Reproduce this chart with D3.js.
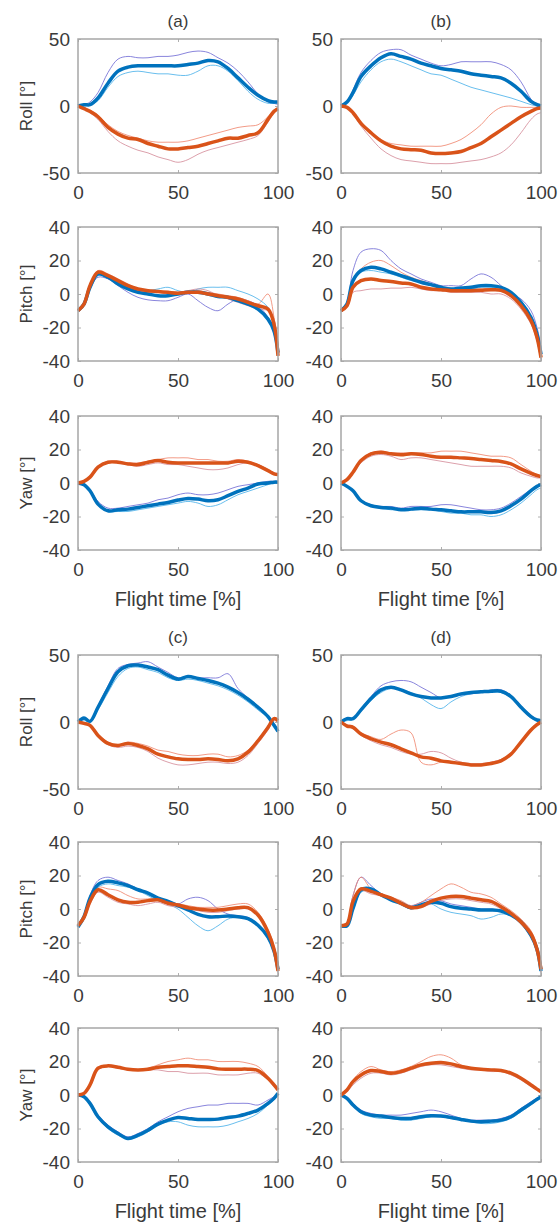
<!DOCTYPE html>
<html>
<head>
<meta charset="utf-8">
<script src="https://cdn.jsdelivr.net/npm/d3@7"></script>
<style>
  body { margin: 0; background: #fff; }
  svg text { font-family: "Liberation Sans", Arial, sans-serif; fill: #3a3a3a; }
</style>
</head>
<body>
<div id="chart"></div>
<script>
// sample positions along flight time [%]
var flightTime = [0,3,6,10,15,20,25,30,35,40,45,50,55,60,65,70,75,80,85,90,95,98,100];
var titles = ["(a)", "(b)", "(c)", "(d)"];
var angleNames = ["Roll [°]", "Pitch [°]", "Yaw [°]"];
var rollTicks = [-50, 0, 50];
var pyTicks = [-40, -20, 0, 20, 40];
var xTicks = [0, 50, 100];

// (a)
var aRollB  = [0,1,1,6,17,26,29,30,30,30,30,30,31,32,34,33,28,21,14,8,4,3,3];
var aRollB1 = [0,1,3,10,25,35,37,36,36,37,37,38,40,41,40,36,32,26,18,9,3,2,1];
var aRollB2 = [0,0,1,4,14,22,25,26,25,24,24,23,23,26,30,30,26,19,11,5,2,2,2];
var aRollR  = [0,-2,-4,-8,-16,-21,-24,-25,-28,-30,-32,-32,-31,-30,-28,-26,-24,-24,-22,-20,-10,-4,-2];
var aRollR1 = [0,-1,-3,-7,-14,-19,-22,-24,-26,-27,-27,-27,-26,-24,-22,-20,-18,-16,-15,-14,-8,-3,-1];
var aRollR2 = [0,-2,-5,-10,-19,-26,-30,-33,-35,-38,-40,-42,-40,-36,-33,-31,-29,-27,-25,-22,-12,-5,-2];
var aPitB   = [-10,-6,4,12,10,6,3,1,0,-1,-1,0,1,1,0,-1.5,-2,-4,-6,-9,-15,-22,-35];
var aPitB1  = [-10,-6,3,10,9,5,1,-2,-3.5,-4,-4,-2,0,-4,-8,-10,-6,-3,-4,-7,-14,-24,-36];
var aPitB2  = [-10,-5,5,11,11,8,4,2,2,3,4,2,1,3,4,4,4,2,0,-3,-8,-18,-33];
var aPitR   = [-10,-6,5,13,11,8,5,3,2,1.5,1,0.5,1,1,0,-1,-2,-3,-5,-7,-9,-18,-37];
var aPitR1  = [-10,-7,5,14,12,9,6,3,2,1,1,1,1,2,1,0,-1,-2,-4,-6,0,-14,-36];
var aPitR2  = [-10,-5,6,13,11,7,4,2,1,1,0,1,2,3,2,-1,-3,-5,-7,-9,-10,-15,-33];
var aYawB   = [0,-1,-4.6,-12.6,-16.6,-16,-15.6,-14.6,-13.6,-12.6,-11.6,-10.2,-9.2,-9.6,-10.6,-10,-7.6,-5,-3,-0.6,0,0.5,0.5];
var aYawB1  = [0,-1,-4,-11,-15,-15,-14,-13,-12,-10,-9,-7,-6,-7,-7,-6,-4,-2,-1,0,1,1,1];
var aYawB2  = [0,-1,-5,-13,-17,-17,-17,-16,-15,-14,-13,-12,-11,-12,-14,-13,-10,-7,-5,-3,-1,0,0];
var aYawR   = [0,1,3.5,9.5,12.4,12.4,11.4,11,12.4,13.4,12.4,12,12,12,12,12,12,13,12.4,10.4,7.4,5.5,5];
var aYawR1  = [0,1,4,10,13,13,12,12,13,14,15,15,15,14,14,13,13,14,13,11,8,6,5];
var aYawR2  = [0,1,3,9,12,12,11,10,11,12,11,11,10,9,8,8,9,11,12,11,8,6,6];

// (b)
var bRollB  = [0,3,10,22,30,36,39,37,35,32,30,28,27,26,24,23,22,21,17,11,3.5,1,0];
var bRollB1 = [0,3,12,25,34,40,42,42,38,35,32,30,31,33,33,33,33,31,27,18,5,0,-1];
var bRollB2 = [0,2,8,18,27,33,35,33,30,27,24,23,20,17,14,12,10,8,6,3.5,1,0,0];
var bRollR  = [0,-1,-5,-13,-20,-26,-30,-32,-32.6,-33,-35,-35.5,-35,-34,-31,-28,-23,-18,-13,-8,-4,-2,-1.5];
var bRollR1 = [0,-1,-5,-12,-19,-25,-28,-29,-30,-30,-30,-30,-28,-25,-20,-14,-6,-1,0,-1,-1,-1,-1];
var bRollR2 = [0,-1,-6,-15,-24,-32,-37,-40,-41,-42,-43,-43,-43,-42,-41,-40,-38,-35,-29,-20,-10,-6,-5];
var bPitB   = [-10,-6,8,14,16,15,13,11,9,7,5.6,4,3,3.6,4,5,5,4,1,-5,-14,-24,-36];
var bPitB1  = [-10,-5,14,25,27,26,20,15,12,9,7,5,5,5,9,12,10,5,0,-3,-10,-20,-32];
var bPitB2  = [-10,-6,7,13,14,13,12,10,8,7,5,4,3,3,3,4,4,3,0,-6,-15,-25,-36];
var bPitR   = [-10,-7,4,8,9,8,7.5,6.6,6,4,3,2.6,2,2,2,2.2,2.5,2.2,-1,-7,-16,-26,-38];
var bPitR1  = [-10,-6,8,15,19,20,17,13,10,8,6,4,3,3,3,3,3,2,0,-6,-14,-24,-36];
var bPitR2  = [-10,-8,1,2,3,3,3.5,3.5,4,3,2,2,1,1,1,1,0,0,-3,-9,-18,-28,-39];
var bYawB   = [0,-2,-4.6,-10.6,-13.6,-14.6,-15,-16,-15.6,-15,-15.6,-16,-16.6,-17.2,-17.2,-17.2,-17.6,-16.6,-13.6,-9.6,-4.6,-2,-1];
var bYawB1  = [0,-2,-4,-10,-13,-14,-14,-15,-14,-14,-14,-13,-13,-14,-15,-16,-16,-15,-12,-8,-4,-2,-1];
var bYawB2  = [0,-2,-5,-11,-14,-15,-16,-16,-16,-16,-16,-17,-18,-18,-19,-19,-20,-19,-16,-12,-7,-4,-3];
var bYawR   = [0,2,6.4,13.4,17.4,18.4,17.4,16.8,17.4,17,16,15.4,15.4,15,14.6,14,13.4,12.8,11.4,8.4,5.8,4.5,3.8];
var bYawR1  = [0,2,7,14,18,19,18,18,18,18,18,19,19,19,18,17,16,16,15,11,7,5,4];
var bYawR2  = [0,2,6,12,16,17,16,14,15,15,14,13,12,11,10,10,10,10,9,6,4,3,3];

// (c)
var cRollB  = [0,3,0.5,11,25,37.5,42,42.5,41,39,35,32,34,32.5,31,29,26,22,17,11,4,-2.5,-7];
var cRollB1 = [0,2,1,12,27,40,43,44,45,41,37,33,34,33,33,33,36,25,18,12,5,-1,-5];
var cRollB2 = [0,1,0,9,22,34,40,41,39,37,33,31,32,31,29,27,24,20,15,9,3,-3,-8];
var cRollR  = [0,-1,-2.5,-10,-16,-17.5,-16,-17.5,-20,-24,-26,-27.5,-28,-28,-27.5,-28,-29,-27.5,-22.5,-14,-4,2.5,1];
var cRollR1 = [0,-1,-2,-9,-15,-17,-15,-16,-18,-21,-22,-24,-25,-25,-24,-24,-26,-25,-21,-13,-3,3,2];
var cRollR2 = [0,-1,-3,-11,-17,-19,-18,-19,-22,-27,-30,-32,-32,-31,-30,-30,-31,-30,-25,-16,-6,1,0];
var cPitB   = [-10.7,-4.6,6.5,14.6,16.6,15.6,14,11.5,9.5,6.5,4.5,2,-0.6,-3.2,-4.6,-4.6,-4.2,-4.6,-5.7,-9.7,-16.8,-25,-36];
var cPitB1  = [-10,-4,8,17,19,17,15,12,10,7,5,3,6,7,5,0,-3,-4,-5,-9,-16,-24,-35];
var cPitB2  = [-11,-5,5,13,15,14,13,11,8,5,3,0,-5,-10,-13,-10,-6,-5,-6,-10,-18,-26,-37];
var cPitR   = [-10,-5,4.5,11.5,8.5,5.5,4,4,5,5.5,3.4,2.4,0.8,0,-0.6,-0.6,0,0.8,0.8,-3.6,-13.8,-24,-37];
var cPitR1  = [-10,-4,6,13,12,11,8,6,6,6,4,3,2,1,1,1,2,3,3,-2,-12,-22,-35];
var cPitR2  = [-10,-5,3,10,7,4,3,2,3,4,2,1,0,-1,-2,-2,-1,0,0,-4,-15,-25,-38];
var cYawB   = [0,-1,-5,-13,-19,-23,-26,-24,-21,-17.4,-15,-13.4,-14,-14.6,-14.6,-14.4,-13.4,-12.6,-11,-9,-5,-2,1];
var cYawB1  = [0,-1,-5,-12,-18,-22,-25,-23,-20,-16,-13,-10,-8,-7,-6,-6,-5,-5,-5,-6,-3,-1,1];
var cYawB2  = [0,-1,-6,-14,-20,-24,-26,-25,-22,-18,-16,-16,-18,-19,-19,-19,-18,-16,-14,-11,-6,-3,0];
var cYawR   = [0,1,6,16,17.4,16.6,15.4,15,15.4,16.6,17,17.4,17.4,17,16.6,15.6,15.4,15.4,15.4,14.6,10,6,3];
var cYawR1  = [0,1,6,16,17,16,15,15,16,18,20,21,22,21,21,20,20,20,19,17,11,6,3];
var cYawR2  = [0,1,5,15,17,16,15,15,15,15,14,14,13,13,13,12,12,12,13,13,9,5,3];

// (d)
var dRollB  = [0,2.5,2.5,9,17.5,24,26,24,21,19,18,18,19,21,22,22.5,23,23,19,11,4,1.5,1];
var dRollB1 = [0,2,3,10,19,27,30,31,30,26,22,18,19,20,21,22,24,24,20,12,5,2,1];
var dRollB2 = [0,1,2,8,16,22,25,24,22,18,13,10,15,19,21,22,22,22,18,10,3,1,0];
var dRollR  = [0,-3,-4,-9,-12.5,-15,-17,-20,-23,-26,-27,-29,-30,-31,-32,-32,-31,-29,-24,-15,-6,-2,0];
var dRollR1 = [0,-2,-3,-8,-11,-13,-9,-6,-8,-30,-32,-30,-30,-31,-32,-32,-30,-28,-23,-14,-5,-1,0];
var dRollR2 = [0,-3,-5,-10,-14,-17,-19,-22,-24,-24,-22,-23,-27,-30,-31,-31,-30,-28,-24,-16,-7,-2,0];
var dPitB   = [-10,-10,0.4,11.5,12,8.5,5.5,3.4,0.8,2.4,4,3.4,1.4,0.4,0,-0.6,-0.6,-1.2,-3.6,-7.7,-15.8,-24,-37];
var dPitB1  = [-10,-8,8,19,14,9,6,4,2,4,6,5,3,2,1,0,0,-1,-3,-7,-15,-24,-36];
var dPitB2  = [-10,-10,-1,10,11,8,5,3,0,2,3,0,-2,-3,-4,-6,-5,-3,-4,-8,-16,-25,-37];
var dPitR   = [-10,-9,4.5,12,10.5,8.5,6.5,3.4,0.8,1.4,4.5,6.5,7.5,7.5,6.5,5.5,4.5,1.4,-2.6,-7.7,-14.8,-24,-36];
var dPitR1  = [-10,-8,8,19,12,9,7,5,2,4,8,12,15,13,10,9,7,3,-1,-6,-13,-22,-34];
var dPitR2  = [-10,-9,3,11,9,8,7,4,1,1,3,5,6,6,5,4,3,0,-4,-9,-17,-26,-38];
var dYawB   = [0,-2,-6,-10,-12,-12.6,-13.4,-14,-14,-13,-12.4,-12.6,-13.4,-14.6,-15.6,-16,-15.6,-15,-13,-9,-5,-2.5,-1];
var dYawB1  = [0,-2,-5,-9,-11,-12,-12,-12,-11,-10,-9,-10,-12,-14,-15,-15,-15,-14,-12,-8,-4,-2,-1];
var dYawB2  = [0,-2,-6,-11,-13,-14,-14,-15,-15,-14,-13,-13,-14,-15,-16,-17,-17,-16,-14,-10,-6,-3,-1];
var dYawR   = [0,3,8,12,14.6,14,13,14,16,18,19,19.4,18.6,17,16,15.4,15,14.6,13,10,6,3.5,2];
var dYawR1  = [0,3,9,14,17,15,14,15,17,20,23,24,22,18,16,15,15,15,13,10,6,3,2];
var dYawR2  = [0,2,6,10,13,13,12,13,15,17,18,18,17,16,15,15,14,14,12,9,5,3,1];

var blueMain = "#0072bd", redMain = "#d95319";
var blueThin = ["#7470d6", "#4fb3ea"], redThin = ["#f08a72", "#d68f9c"];

// panels: group (a..d), angle row
var panels = [
  {g:0, r:0, blue:[aRollB,aRollB1,aRollB2], red:[aRollR,aRollR1,aRollR2]},
  {g:0, r:1, blue:[aPitB,aPitB1,aPitB2],   red:[aPitR,aPitR1,aPitR2]},
  {g:0, r:2, blue:[aYawB,aYawB1,aYawB2],   red:[aYawR,aYawR1,aYawR2]},
  {g:1, r:0, blue:[bRollB,bRollB1,bRollB2], red:[bRollR,bRollR1,bRollR2]},
  {g:1, r:1, blue:[bPitB,bPitB1,bPitB2],   red:[bPitR,bPitR1,bPitR2]},
  {g:1, r:2, blue:[bYawB,bYawB1,bYawB2],   red:[bYawR,bYawR1,bYawR2]},
  {g:2, r:0, blue:[cRollB,cRollB1,cRollB2], red:[cRollR,cRollR1,cRollR2]},
  {g:2, r:1, blue:[cPitB,cPitB1,cPitB2],   red:[cPitR,cPitR1,cPitR2]},
  {g:2, r:2, blue:[cYawB,cYawB1,cYawB2],   red:[cYawR,cYawR1,cYawR2]},
  {g:3, r:0, blue:[dRollB,dRollB1,dRollB2], red:[dRollR,dRollR1,dRollR2]},
  {g:3, r:1, blue:[dPitB,dPitB1,dPitB2],   red:[dPitR,dPitR1,dPitR2]},
  {g:3, r:2, blue:[dYawB,dYawB1,dYawB2],   red:[dYawR,dYawR1,dYawR2]}
];

var W = 558, H = 1228;
var colLeft = [78, 341], pw = 200, ph = 134;
var rowTops = [[39, 227, 416], [655, 842, 1028]];

var svg = d3.select("#chart").append("svg")
    .attr("width", W).attr("height", H);

var fmt = function(d) { return String(d); };

panels.forEach(function(p) {
  var col = p.g % 2, grp = Math.floor(p.g / 2);
  var left = colLeft[col], top = rowTops[grp][p.r];
  var ticks = p.r == 0 ? rollTicks : pyTicks;

  var x = d3.scaleLinear().domain([0, 100]).range([0, pw]);
  var y = d3.scaleLinear().domain(p.r == 0 ? [-50, 50] : [-40, 40]).range([ph, 0]);

  var g = svg.append("g").attr("transform", "translate(" + left + "," + top + ")");

  // axes (matlab style, ticks inside)
  var xa = g.append("g").attr("transform", "translate(0," + ph + ")")
      .call(d3.axisBottom(x).tickValues(xTicks).tickSize(-3).tickPadding(13).tickFormat(fmt));
  var ya = g.append("g")
      .call(d3.axisLeft(y).tickValues(ticks).tickSize(-3).tickPadding(8).tickFormat(fmt));
  g.append("g").call(d3.axisTop(x).tickValues(xTicks).tickSize(-3).tickFormat(""));
  g.append("g").attr("transform", "translate(" + pw + ",0)")
      .call(d3.axisRight(y).tickValues(ticks).tickSize(-3).tickFormat(""));
  g.selectAll(".domain").remove();
  g.selectAll(".tick line").attr("stroke", "#b0b0b0");
  g.selectAll(".tick text").attr("font-size", 19).attr("fill", "#3a3a3a");

  var line = d3.line()
      .x(function(d, i) { return x(flightTime[i]); })
      .y(function(d) { return y(d); })
      .curve(d3.curveCatmullRom.alpha(0.5));

  var plot = g.append("g");
  // individual trials (thin)
  [1, 2].forEach(function(k) {
    plot.append("path").datum(p.blue[k])
        .attr("d", line).attr("fill", "none")
        .attr("stroke", blueThin[k - 1]).attr("stroke-width", 1).attr("opacity", 0.85);
    plot.append("path").datum(p.red[k])
        .attr("d", line).attr("fill", "none")
        .attr("stroke", redThin[k - 1]).attr("stroke-width", 1).attr("opacity", 0.85);
  });
  // means (thick)
  plot.append("path").datum(p.blue[0])
      .attr("d", line).attr("fill", "none")
      .attr("stroke", blueMain).attr("stroke-width", 3.5).attr("stroke-linejoin", "round");
  plot.append("path").datum(p.red[0])
      .attr("d", line).attr("fill", "none")
      .attr("stroke", redMain).attr("stroke-width", 3.5).attr("stroke-linejoin", "round");

  // box
  g.append("rect").attr("width", pw).attr("height", ph)
      .attr("fill", "none").attr("stroke", "#a6a6a6").attr("stroke-width", 1.5);

  if (p.r == 0) {
    g.append("text").attr("x", pw / 2).attr("y", -12)
        .attr("text-anchor", "middle").attr("font-size", 17)
        .text(titles[p.g]);
  }
  if (col == 0) {
    g.append("text")
        .attr("transform", "translate(" + (26 - left) + "," + (ph / 2) + ") rotate(-90)")
        .attr("text-anchor", "middle").attr("dy", "0.35em").attr("font-size", 17)
        .text(angleNames[p.r]);
  }
  if (p.r == 2) {
    g.append("text").attr("x", pw / 2).attr("y", ph + 56)
        .attr("text-anchor", "middle").attr("font-size", 20)
        .text("Flight time [%]");
  }
});
</script>
</body>
</html>
